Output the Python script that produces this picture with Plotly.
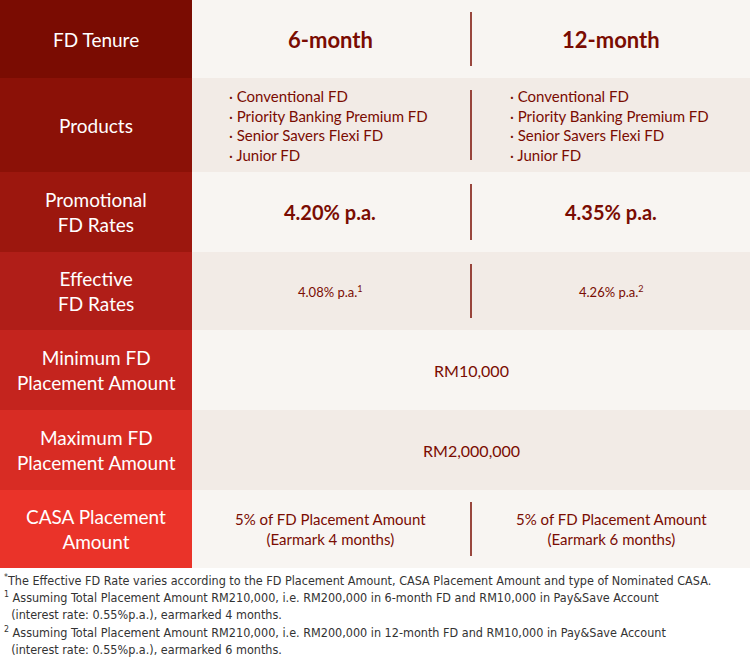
import plotly.graph_objects as go

row_labels = ["FD Tenure", "Products", "Promotional<br>FD Rates", "Effective<br>FD Rates",
              "Minimum FD<br>Placement Amount", "Maximum FD<br>Placement Amount", "CASA Placement<br>Amount"]
tenures = ["6-month", "12-month"]
products = ["Conventional FD", "Priority Banking Premium FD", "Senior Savers Flexi FD", "Junior FD"]
promo_rates = ["4.20% p.a.", "4.35% p.a."]
effective_rates = ["4.08% p.a.<sup>1</sup>", "4.26% p.a.<sup>2</sup>"]
min_amount = "RM10,000"
max_amount = "RM2,000,000"
casa = ["5% of FD Placement Amount<br>(Earmark 4 months)", "5% of FD Placement Amount<br>(Earmark 6 months)"]
footnotes = [
    "<sup>*</sup>The Effective FD Rate varies according to the FD Placement Amount, CASA Placement Amount and type of Nominated CASA.",
    "<sup>1</sup> Assuming Total Placement Amount RM210,000, i.e. RM200,000 in 6-month FD and RM10,000 in Pay&Save Account<br>&nbsp;&nbsp;(interest rate: 0.55%p.a.), earmarked 4 months.",
    "<sup>2</sup> Assuming Total Placement Amount RM210,000, i.e. RM200,000 in 12-month FD and RM10,000 in Pay&Save Account<br>&nbsp;&nbsp;(interest rate: 0.55%p.a.), earmarked 6 months.",
]

row_edges = [0, 78, 172, 252, 330, 410, 490, 568]
head_colors = ["#7a0c02", "#8b1107", "#9c170e", "#b01e18", "#c4241e", "#d82c24", "#ea3329"]
body_colors = ["#f8f5f2", "#f2ebe6"]
DARK = "#7a0c02"
FONT = "Lato"
LX, MID, W = 192, 471, 750
c1, c2 = 330, 611

fig = go.Figure()
shapes, ann = [], []
def txt(x, y, t, size, bold=False, color=DARK, align="center", xanchor="center", font=FONT):
    ann.append(dict(x=x, y=y, text=f"<b>{t}</b>" if bold else t, showarrow=False, xanchor=xanchor,
                    yanchor="middle", align=align, font=dict(family=font, size=size, color=color)))

for i, lab in enumerate(row_labels):
    y0, y1 = row_edges[i], row_edges[i + 1]
    shapes.append(dict(type="rect", x0=0, x1=LX, y0=y0, y1=y1, fillcolor=head_colors[i], line_width=0, layer="below"))
    shapes.append(dict(type="rect", x0=LX, x1=W, y0=y0, y1=y1, fillcolor=body_colors[i % 2], line_width=0, layer="below"))
    if i not in (4, 5):
        shapes.append(dict(type="line", x0=MID, x1=MID, y0=y0 + 12, y1=y1 - 12, line=dict(color=DARK, width=1.5)))
    txt(LX / 2, (y0 + y1) / 2, lab, 19, color="white")

ym = lambda i: (row_edges[i] + row_edges[i + 1]) / 2
for x, t in zip([c1, c2], tenures):
    txt(x, ym(0), t, 22, bold=True)
plist = "<br>".join("· " + p for p in products)
for x in [227, 508]:
    txt(x, ym(1), plist, 15, align="left", xanchor="left")
for x, t in zip([c1, c2], promo_rates):
    txt(x, ym(2), t, 20, bold=True)
for x, t in zip([c1, c2], effective_rates):
    txt(x, ym(3), t, 13)
txt(MID, ym(4), min_amount, 16)
txt(MID, ym(5), max_amount, 16)
for x, t in zip([c1, c2], casa):
    txt(x, ym(6), t, 15)

fy = [580, 605, 640]
for y, t in zip(fy, footnotes):
    ann.append(dict(x=2, y=y, text=t, showarrow=False, xanchor="left", yanchor="middle", align="left",
                    font=dict(family="DejaVu Sans Condensed", size=12.5, color="#333333")))

fig.update_layout(width=750, height=657, margin=dict(l=0, r=0, t=0, b=0),
                  paper_bgcolor="white", plot_bgcolor="white", shapes=shapes, annotations=ann,
                  xaxis=dict(range=[0, 750], visible=False, fixedrange=True),
                  yaxis=dict(range=[657, 0], visible=False, fixedrange=True), showlegend=False)
fig.write_html("out.html", config={"displayModeBar": False},
               post_script="document.body.style.margin='0';document.body.style.overflow='hidden';")
